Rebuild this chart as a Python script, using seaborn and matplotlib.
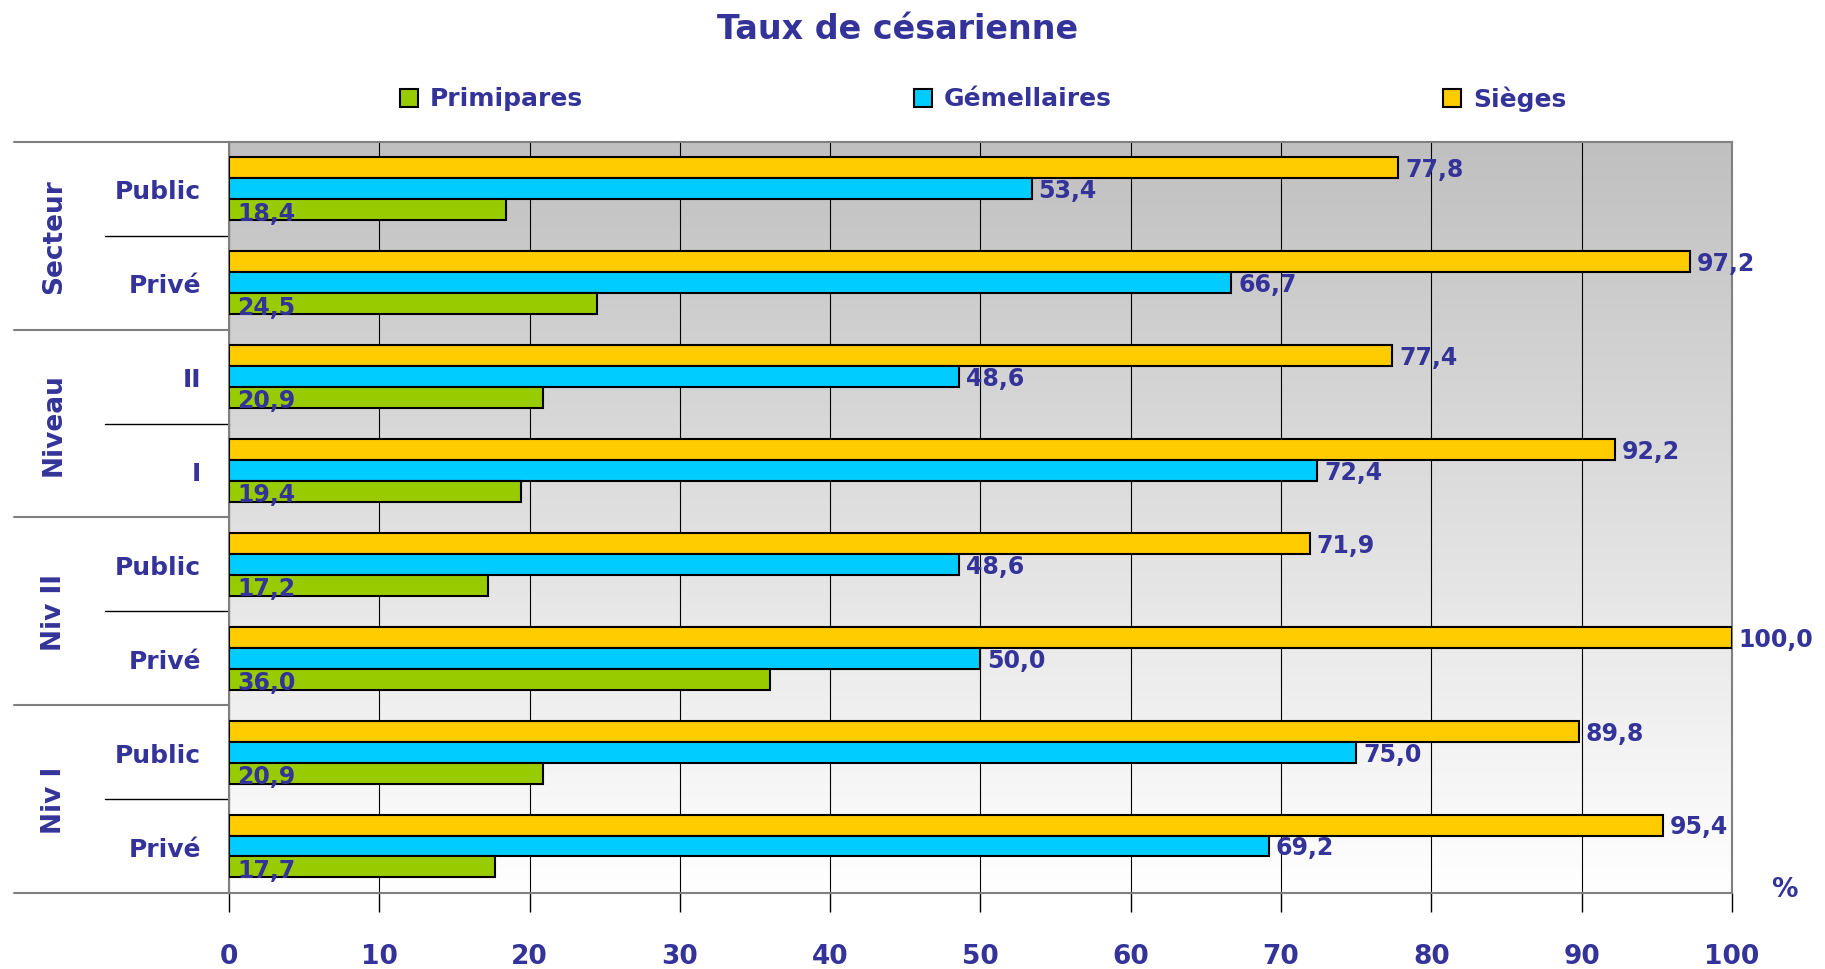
import numpy as np
import pandas as pd
import seaborn as sns
import matplotlib.pyplot as plt
from matplotlib.patches import Rectangle

# data
groups = ["Secteur", "Niveau", "Niv II", "Niv I"]
sub_labels = ["Public", "Privé", "II", "I", "Public", "Privé", "Public", "Privé"]
categories = ["Secteur Public", "Secteur Privé", "Niveau II", "Niveau I",
              "Niv II Public", "Niv II Privé", "Niv I Public", "Niv I Privé"]
primipares = [18.4, 24.5, 20.9, 19.4, 17.2, 36.0, 20.9, 17.7]
gemellaires = [53.4, 66.7, 48.6, 72.4, 48.6, 50.0, 75.0, 69.2]
sieges = [77.8, 97.2, 77.4, 92.2, 71.9, 100.0, 89.8, 95.4]
x_ticks = [0, 10, 20, 30, 40, 50, 60, 70, 80, 90, 100]

series = ["Primipares", "Gémellaires", "Sièges"]
colors = {"Primipares": "#99cc00", "Gémellaires": "#00ccff", "Sièges": "#ffcc00"}
txt = "#333399"

df = pd.DataFrame({
    "cat": categories * 3,
    "serie": ["Primipares"] * 8 + ["Gémellaires"] * 8 + ["Sièges"] * 8,
    "val": primipares + gemellaires + sieges,
})

sns.set_style("white")
plt.rcParams["font.family"] = ["DejaVu Sans"]
plt.rcParams["font.weight"] = "bold"

fig = plt.figure(figsize=(18.25, 9.70), dpi=100)
ax = fig.add_axes([0.1255, 0.0784, 0.8235, 0.7742])

# background gradient grey -> white
grad = np.linspace(0, 1, 256).reshape(-1, 1)
ax.imshow(grad, cmap=sns.blend_palette(["#c0c0c0", "#ffffff"], as_cmap=True),
          extent=[0, 100, 7.5, -0.5], aspect="auto", zorder=0)

hue_order = ["Sièges", "Gémellaires", "Primipares"]
sns.barplot(data=df, y="cat", x="val", hue="serie", hue_order=hue_order,
            order=categories, palette=colors, orient="h", width=0.67,
            saturation=1, edgecolor="black", linewidth=1.5, legend=False,
            ax=ax, zorder=3)

ax.set_xlim(0, 100)
ax.set_ylim(7.5, -0.5)
ax.set_xticks(x_ticks)
ax.set_xticklabels([str(t) for t in x_ticks], fontsize=19, color=txt, fontweight="bold")
ax.tick_params(axis="x", length=14, width=1, color="black", pad=22, direction="out", bottom=True)
ax.set_yticks(range(len(categories)))
ax.set_yticklabels(sub_labels, fontsize=18, color=txt, fontweight="bold")
ax.tick_params(axis="y", length=0, pad=20)
ax.set_xlabel("")
ax.set_ylabel("")
for x in x_ticks:
    ax.axvline(x, color="black", lw=0.8, zorder=1)
for s in ax.spines.values():
    s.set_color("#808080")
    s.set_linewidth(1.5)

# value labels
for cont, name in zip(ax.containers, hue_order):
    for bar in cont:
        v = bar.get_width()
        yc = bar.get_y() + bar.get_height() / 2
        lab = f"{v:.1f}".replace(".", ",")
        if name == "Primipares":
            ax.annotate(lab, (0, yc), xytext=(6, -2), textcoords="offset points",
                        ha="left", va="center", fontsize=17, color=txt,
                        fontweight="bold", zorder=5)
        else:
            ax.annotate(lab, (v, yc), xytext=(5, -1), textcoords="offset points",
                        ha="left", va="center", fontsize=17, color=txt,
                        fontweight="bold", zorder=5)

# left side group labels and separators
tr = ax.get_yaxis_transform()
for i, g in enumerate(groups):
    ax.text(-0.1164, 2 * i + 0.5, g, transform=tr, rotation=90, ha="center",
            va="center", fontsize=19, color=txt, fontweight="bold")
for y in [-0.5, 1.5, 3.5, 5.5, 7.5]:
    ax.plot([-0.143, 0], [y, y], transform=tr, color="#808080", lw=1.5, clip_on=False)
for y in [0.5, 2.5, 4.5, 6.5]:
    ax.plot([-0.0825, 0], [y, y], transform=tr, color="black", lw=1, clip_on=False)

# title, legend, unit
fig.text(0.492, 0.970, "Taux de césarienne", ha="center", va="center",
         fontsize=24, color=txt, fontweight="bold")
leg_x = [0.2192, 0.5008, 0.7907]
for x, name in zip(leg_x, series):
    fig.patches.append(Rectangle((x, 0.889), 0.0099, 0.0186, transform=fig.transFigure,
                                 facecolor=colors[name], edgecolor="black", lw=1.5))
    fig.text(x + 0.0165, 0.898, name, ha="left", va="center", fontsize=18,
             color=txt, fontweight="bold")
fig.text(0.978, 0.082, "%", ha="center", va="center", fontsize=19, color=txt, fontweight="bold")

fig.savefig("out.png", dpi=100)
